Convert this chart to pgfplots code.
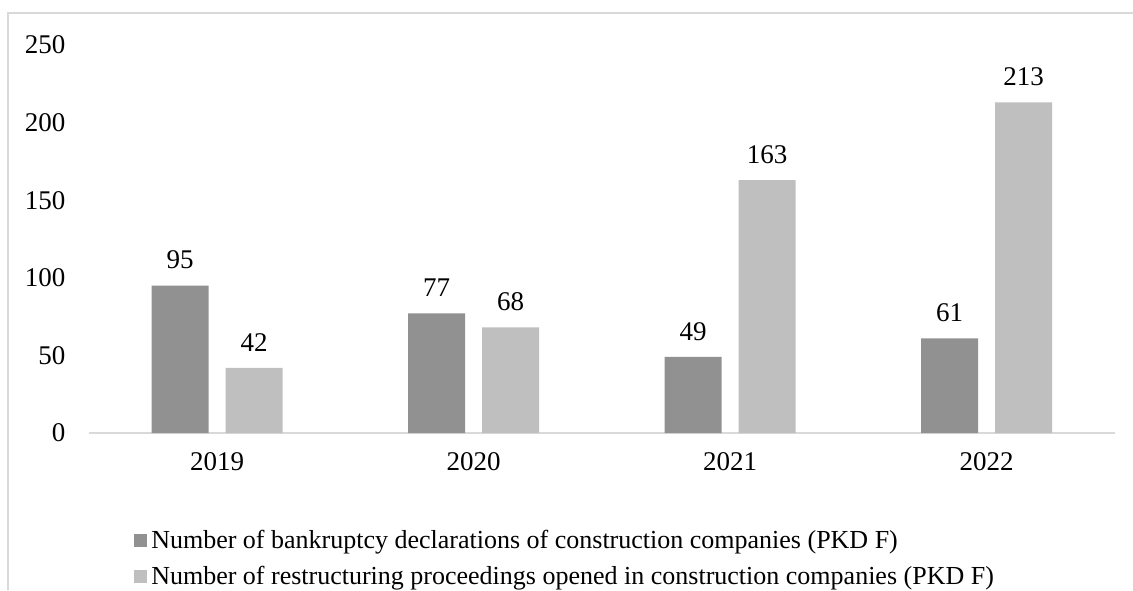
\documentclass[border=0pt]{standalone}
\usepackage{pgfplots}
\pgfplotsset{compat=1.18}
\usepackage{fontspec}
\setmainfont{Liberation Serif}
\definecolor{darkbar}{HTML}{919191}
\definecolor{lightbar}{HTML}{BFBFBF}
\definecolor{axgray}{HTML}{D9D9D9}
\begin{document}
\begin{tikzpicture}[x=1pt,y=1pt]
\useasboundingbox (0,0) rectangle (1133,590);
\draw[axgray, line width=1.5pt] (8,0) -- (8,577) -- (1133,577);
\begin{axis}[
  at={(89pt,157pt)}, anchor=south west,
  scale only axis, width=1026pt, height=388pt,
  xmin=-0.5, xmax=3.5, ymin=0, ymax=250,
  ybar, bar width=57pt,
  axis y line*=left, axis x line*=bottom,
  y axis line style={draw=none},
  x axis line style={draw=axgray, line width=1.5pt},
  major tick length=0pt,
  xtick={0,1,2,3}, xticklabels={2019,2020,2021,2022},
  ytick={0,50,100,150,200,250},
  font=\fontsize{27}{32}\selectfont,
  ticklabel style={font=\fontsize{27}{32}\selectfont},
  yticklabel style={xshift=-20pt},
  xticklabel style={yshift=-16pt},
  /pgf/number format/assume math mode=true,
  nodes near coords,
  every node near coord/.append style={font=\fontsize{27}{32}\selectfont, yshift=13pt},
  legend style={at={(0.041,-0.24)}, anchor=north west, draw=none, fill=none,
    font=\fontsize{26}{30}\selectfont, row sep=12pt,
    /tikz/every odd column/.append style={column sep=2pt}},
  legend cell align=left,
  legend image code/.code={\fill[#1] (0pt,-6.5pt) rectangle (13pt,6.5pt);},
  ]
\addplot[fill=darkbar, draw=none, bar shift=-37pt] coordinates {(0,95) (1,77) (2,49) (3,61)};
\addplot[fill=lightbar, draw=none, bar shift=37pt] coordinates {(0,42) (1,68) (2,163) (3,213)};
\legend{Number of bankruptcy declarations of construction companies (PKD F),
Number of restructuring proceedings opened in construction companies (PKD F)}
\end{axis}
\end{tikzpicture}
\end{document}
